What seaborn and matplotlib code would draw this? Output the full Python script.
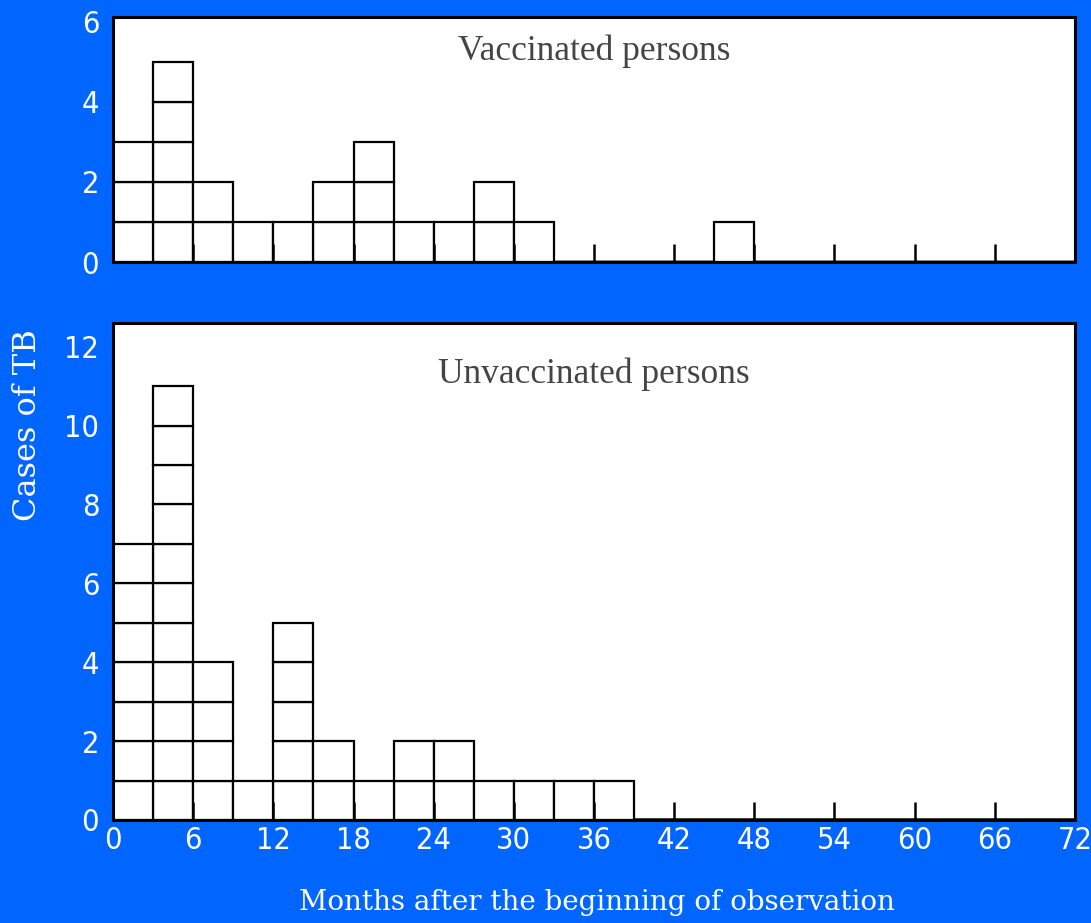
import numpy as np
import pandas as pd
import matplotlib
matplotlib.use('Agg')
import matplotlib.pyplot as plt
import seaborn as sns

# cases of TB per 3-month interval, months 0..72
bin_starts = list(range(0, 72, 3))
vaccinated = [3, 5, 2, 1, 1, 2, 3, 1, 1, 2, 1, 0, 0, 0, 0, 1, 0, 0, 0, 0, 0, 0, 0, 0]
unvaccinated = [7, 11, 4, 1, 5, 2, 1, 2, 2, 1, 1, 1, 1, 0, 0, 0, 0, 0, 0, 0, 0, 0, 0, 0]
x_ticks = list(range(0, 73, 6))
top_yticks = [0, 2, 4, 6]
bottom_yticks = [0, 2, 4, 6, 8, 10, 12]
panel_titles = ["Vaccinated persons", "Unvaccinated persons"]

BLUE = '#0066ff'


def expand(counts):
    # one row per case, so every case becomes its own square in the stack
    rows = []
    for start, n in zip(bin_starts, counts):
        for k in range(n):
            rows.append({'month': start + 1.5, 'case': str(k)})
    return pd.DataFrame(rows)


sns.set_style('white')
plt.rcParams['font.family'] = ['DejaVu Serif']

fig = plt.figure(figsize=(10.91, 9.23), dpi=100, facecolor=BLUE)
ax_top = fig.add_axes([0.1036, 0.7161, 0.8817, 0.2655])
ax_bot = fig.add_axes([0.1036, 0.1116, 0.8817, 0.5384])

bins = np.arange(0, 75, 3)
panels = [(ax_top, vaccinated, 6.12, top_yticks), (ax_bot, unvaccinated, 12.6, bottom_yticks)]

for (ax, counts, ymax, yticks), title in zip(panels, panel_titles):
    df = expand(counts)
    levels = sorted(df['case'].unique(), key=int)
    sns.histplot(data=df, x='month', hue='case', hue_order=levels, multiple='stack',
                 bins=bins, palette={l: 'white' for l in levels}, edgecolor='black',
                 linewidth=1.6, alpha=1, legend=False, ax=ax)
    ax.set_axisbelow(False)
    ax.set_facecolor('white')
    ax.set_xlim(0, 72)
    ax.set_ylim(0, ymax)
    ax.set_xticks(x_ticks)
    ax.set_yticks(yticks)
    ax.set_xlabel('')
    ax.set_ylabel('')
    for s in ax.spines.values():
        s.set_visible(True)
        s.set_color('black')
        s.set_linewidth(2.2)
    ax.tick_params(axis='x', bottom=True, direction='in', length=13, width=1.8, color='black',
                   labelcolor='white', labelsize=22, pad=4)
    ax.tick_params(axis='y', left=True, length=0, labelcolor='white', labelsize=22, pad=10)
    for lab in ax.get_xticklabels() + ax.get_yticklabels():
        lab.set_family('DejaVu Sans')
        lab.set_fontstretch('condensed')
    ax.text(0.5, 0.93, title, transform=ax.transAxes, ha='center', va='top',
            fontsize=25.5, color='#444444', family='Liberation Serif')

ax_top.tick_params(axis='x', labelbottom=False)

fig.text(0.547, 0.022, 'Months after the beginning of observation', ha='center', va='center',
         color='white', fontsize=20)
fig.text(0.025, 0.54, 'Cases of TB', rotation=90, ha='center', va='center',
         color='white', fontsize=23)

fig.savefig('out.png', dpi=100, facecolor=BLUE)
